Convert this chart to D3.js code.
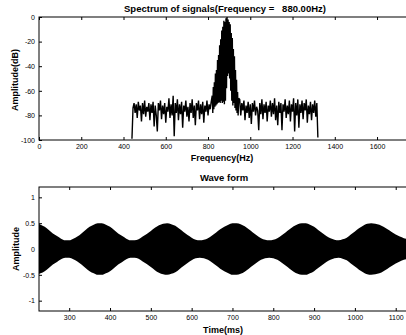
<!DOCTYPE html>
<html>
<head>
<meta charset="utf-8">
<script src="https://cdn.jsdelivr.net/npm/d3@7"></script>
<style>
  body { margin: 0; background: #fff; }
  svg { display: block; font-family: "Liberation Sans", Arial, sans-serif; }
  .tick text { font-size: 7px; fill: #000; }
  .tick line { stroke: #000; }
  .ttl { font-size: 9.5px; font-weight: bold; white-space: pre; }
  .lbl { font-size: 9px; font-weight: bold; }
</style>
</head>
<body>
<div id="chart"></div>
<script>
// spectrum (dB): noise floor every 5 Hz, peak every 2.5 Hz
const floorLowStart = 440;   // 440 .. 815 Hz, step 5
const floorLow = [
  -99, -74, -70, -78, -71, -82, -69, -76, -72, -85, -70, -79, -68, -81, -73, -77,
  -70, -84, -71, -78, -69, -89, -72, -80, -93, -70, -76, -68, -83, -72, -79, -70,
  -86, -73, -77, -66, -82, -71, -80, -64, -97, -70, -78, -67, -84, -71, -79, -69,
  -90, -72, -77, -68, -81, -73, -85, -70, -78, -67, -82, -72, -88, -70, -76, -68,
  -83, -71, -79, -69, -86, -72, -77, -68, -80, -71, -75, -69
];
const peakStart = 820;       // 820 .. 945 Hz, step 2.5
const peakDb = [
  -64, -78, -57, -75, -53, -73, -46, -72, -43, -71,
  -35, -70, -31, -69, -23, -70, -18, -68, -11, -70,
  -8, -69, -3, -71, -4, -68, -1, -58, 0, -48,
  -2, -46, -4, -50, -6, -60, -13, -68, -17, -72,
  -26, -70, -32, -74, -43, -76, -51, -78, -61, -80,
  -66
];
const floorHighStart = 950;  // 950 .. 1320 Hz, step 5
const floorHigh = [
  -67, -80, -70, -76, -68, -84, -72, -78, -69, -82, -71, -87, -70, -77, -68, -80,
  -73, -76, -92, -70, -79, -67, -83, -71, -78, -69, -85, -72, -77, -68, -81, -70,
  -79, -66, -84, -72, -88, -69, -78, -70, -92, -71, -77, -67, -82, -72, -79, -68,
  -85, -71, -77, -66, -93, -70, -80, -67, -90, -71, -78, -68, -83, -70, -76, -67,
  -86, -72, -79, -69, -84, -71, -78, -68, -81, -70, -98
];

// waveform envelope (amplitude) every 10 ms
const waveStart = 220;
const waveStep = 10;
const envelope = [
  0.50, 0.47, 0.43, 0.37, 0.30, 0.25, 0.20, 0.17,
  0.17, 0.20, 0.24, 0.30, 0.37, 0.43, 0.47, 0.50,
  0.50, 0.47, 0.43, 0.37, 0.30, 0.25, 0.20, 0.17,
  0.17, 0.19, 0.24, 0.29, 0.35, 0.41, 0.46, 0.49,
  0.50, 0.48, 0.45, 0.39, 0.33, 0.27, 0.22, 0.18,
  0.17, 0.18, 0.21, 0.26, 0.32, 0.38, 0.43, 0.47,
  0.50, 0.50, 0.48, 0.44, 0.38, 0.32, 0.26, 0.21,
  0.18, 0.17, 0.18, 0.21, 0.26, 0.32, 0.38, 0.44,
  0.48, 0.50, 0.50, 0.47, 0.43, 0.37, 0.31, 0.25,
  0.21, 0.18, 0.17, 0.19, 0.22, 0.28, 0.34, 0.40,
  0.45, 0.49, 0.50, 0.49, 0.47, 0.43, 0.38, 0.33,
  0.28, 0.24, 0.21, 0.19
];

const freqTicks = [0, 200, 400, 600, 800, 1000, 1200, 1400, 1600];
const dbTicks = [0, -20, -40, -60, -80, -100];
const timeTicks = [300, 400, 500, 600, 700, 800, 900, 1000, 1100];
const ampTicks = [1, 0.5, 0, -0.5, -1];

const W = 406, H = 335;
const svg = d3.select("#chart").append("svg").attr("width", W).attr("height", H);

function spec(arr, start, step) {
  return arr.map((v, i) => ({ f: start + i * step, db: v }));
}
const specData = spec(floorLow, floorLowStart, 5)
  .concat(spec(peakDb, peakStart, 2.5))
  .concat(spec(floorHigh, floorHighStart, 5));

const plain = d => String(d);

// ---- top panel: spectrum
const t = { left: 39, right: 410, top: 17, bottom: 140 };
const x1 = d3.scaleLinear().domain([0, 1756]).range([t.left, t.right]);
const y1 = d3.scaleLinear().domain([-100, 0]).range([t.bottom, t.top]);

function frame(g, b) {
  g.append("rect")
    .attr("x", b.left).attr("y", b.top)
    .attr("width", b.right - b.left).attr("height", b.bottom - b.top)
    .attr("fill", "none").attr("stroke", "#000").attr("stroke-width", 1);
}

function axes(b, xs, ys, xt, yt) {
  svg.append("g").attr("transform", `translate(0,${b.bottom})`)
    .call(d3.axisBottom(xs).tickValues(xt).tickSizeInner(-3).tickSizeOuter(0).tickPadding(4).tickFormat(plain))
    .call(g => g.select(".domain").remove());
  svg.append("g").attr("transform", `translate(0,${b.top})`)
    .call(d3.axisTop(xs).tickValues(xt).tickSizeInner(-3).tickSizeOuter(0).tickFormat(""))
    .call(g => g.select(".domain").remove());
  svg.append("g").attr("transform", `translate(${b.left},0)`)
    .call(d3.axisLeft(ys).tickValues(yt).tickSizeInner(-3).tickSizeOuter(0).tickPadding(4).tickFormat(plain))
    .call(g => g.select(".domain").remove());
  frame(svg, b);
}

svg.append("path")
  .datum(specData)
  .attr("fill", "none")
  .attr("stroke", "#000")
  .attr("stroke-width", 1.4)
  .attr("stroke-linejoin", "bevel")
  .attr("d", d3.line().x(d => x1(d.f)).y(d => y1(d.db)));

axes(t, x1, y1, freqTicks, dbTicks);

svg.append("text").attr("class", "ttl").attr("x", 225).attr("y", 12)
  .attr("text-anchor", "middle").text("Spectrum of signals(Frequency =   880.00Hz)");
svg.append("text").attr("class", "lbl").attr("x", 222).attr("y", 161)
  .attr("text-anchor", "middle").text("Frequency(Hz)");
svg.append("text").attr("class", "lbl")
  .attr("transform", "translate(18,80) rotate(-90)")
  .attr("text-anchor", "middle").text("Amplitude(dB)");

// ---- bottom panel: wave form
const b = { left: 39, right: 410, top: 187, bottom: 311 };
const x2 = d3.scaleLinear().domain([226, 1135]).range([b.left, b.right]);
const y2 = d3.scaleLinear().domain([-1.2, 1.2]).range([b.bottom, b.top]);

const waveData = envelope.map((v, i) => ({ t: waveStart + i * waveStep, a: v }));

svg.append("defs").append("clipPath").attr("id", "clipB")
  .append("rect").attr("x", b.left).attr("y", b.top)
  .attr("width", b.right - b.left).attr("height", b.bottom - b.top);

svg.append("path")
  .datum(waveData)
  .attr("clip-path", "url(#clipB)")
  .attr("fill", "#000")
  .attr("d", d3.area().curve(d3.curveMonotoneX)
    .x(d => x2(d.t)).y0(d => y2(-d.a)).y1(d => y2(d.a)));

axes(b, x2, y2, timeTicks, ampTicks);

svg.append("text").attr("class", "ttl").attr("x", 224).attr("y", 181)
  .attr("text-anchor", "middle").text("Wave form");
svg.append("text").attr("class", "lbl").attr("x", 223).attr("y", 333)
  .attr("text-anchor", "middle").text("Time(ms)");
svg.append("text").attr("class", "lbl")
  .attr("transform", "translate(19,249) rotate(-90)")
  .attr("text-anchor", "middle").text("Amplitude");
</script>
</body>
</html>
